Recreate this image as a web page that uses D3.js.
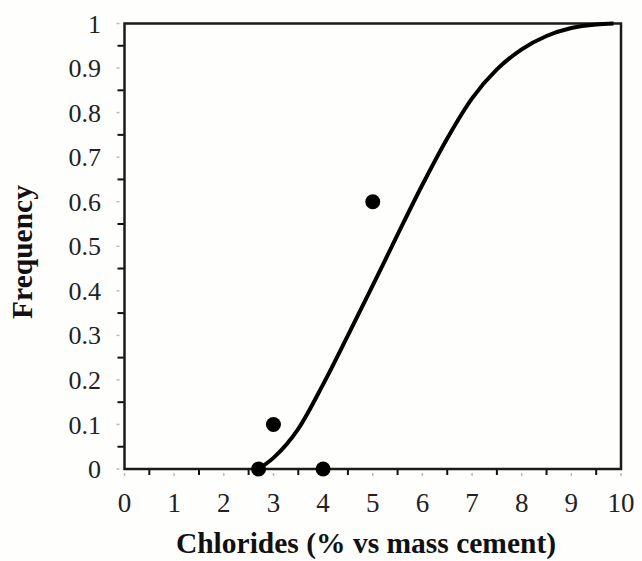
<!DOCTYPE html>
<html>
<head>
<meta charset="utf-8">
<script src="https://cdn.jsdelivr.net/npm/d3@7"></script>
<style>
  html, body { margin: 0; padding: 0; background: #fefefc; }
  svg { display: block; }
</style>
</head>
<body>
<svg id="chart" width="642" height="561"></svg>
<script>
// Fitted cumulative curve
const curveX = [2.7, 3.0, 3.5, 4.0, 4.5, 5.0, 5.5, 6.0, 6.5, 7.0, 7.5, 8.0, 8.5, 9.0, 9.5, 9.85];
const curveY = [0, 0.025, 0.09, 0.19, 0.30, 0.412, 0.526, 0.638, 0.742, 0.832, 0.897, 0.942, 0.972, 0.990, 0.998, 1.0];

// Observed frequencies
const obsX = [2.7, 3, 4, 5];
const obsY = [0, 0.1, 0, 0.6];

const xTicks = [0, 1, 2, 3, 4, 5, 6, 7, 8, 9, 10];
const yTicks = [0, 0.1, 0.2, 0.3, 0.4, 0.5, 0.6, 0.7, 0.8, 0.9, 1];

const svg = d3.select('#chart');
const serif = '"Liberation Serif", "Times New Roman", serif';

const x = d3.scaleLinear().domain([0, 10]).range([124.5, 621]);
const y = d3.scaleLinear().domain([0, 1]).range([469, 23.5]);

// Minor ticks (half steps) — dark, outside the frame
const xMinor = d3.range(0.5, 10, 1);
const yMinor = d3.range(0.05, 1, 0.1);

svg.append('g')
  .attr('transform', `translate(0,${y(0)})`)
  .selectAll('line').data(xMinor).join('line')
  .attr('x1', d => x(d)).attr('x2', d => x(d))
  .attr('y1', 0).attr('y2', 6)
  .attr('stroke', '#111').attr('stroke-width', 2);

svg.append('g')
  .attr('transform', `translate(${x(0)},0)`)
  .selectAll('line').data(yMinor).join('line')
  .attr('y1', d => y(d)).attr('y2', d => y(d))
  .attr('x1', 0).attr('x2', -7)
  .attr('stroke', '#111').attr('stroke-width', 2);

// Major ticks — faint
svg.append('g')
  .attr('transform', `translate(0,${y(0)})`)
  .selectAll('line').data(xTicks).join('line')
  .attr('x1', d => x(d)).attr('x2', d => x(d))
  .attr('y1', 4).attr('y2', 7)
  .attr('stroke', '#bbb').attr('stroke-width', 1.5);

svg.append('g')
  .attr('transform', `translate(${x(0)},0)`)
  .selectAll('line').data(yTicks).join('line')
  .attr('y1', d => y(d)).attr('y2', d => y(d))
  .attr('x1', -5).attr('x2', -8)
  .attr('stroke', '#bbb').attr('stroke-width', 1.5);

// Tick labels
svg.append('g').selectAll('text').data(xTicks).join('text')
  .attr('x', d => x(d)).attr('y', 512)
  .attr('text-anchor', 'middle')
  .attr('font-family', serif).attr('font-size', 27).attr('fill', '#222')
  .text(d => d);

svg.append('g').selectAll('text').data(yTicks).join('text')
  .attr('x', 101).attr('y', d => y(d)).attr('dy', '0.35em')
  .attr('text-anchor', 'end')
  .attr('font-family', serif).attr('font-size', 26).attr('fill', '#222')
  .text(d => d);

// Frame
svg.append('rect')
  .attr('x', x(0)).attr('y', y(1))
  .attr('width', x(10) - x(0)).attr('height', y(0) - y(1))
  .attr('fill', 'none').attr('stroke', '#1a1a1a').attr('stroke-width', 2.5);

// Curve
const line = d3.line()
  .x((d, i) => x(curveX[i]))
  .y(d => y(d))
  .curve(d3.curveMonotoneX);

svg.append('path')
  .attr('d', line(curveY))
  .attr('fill', 'none').attr('stroke', '#000').attr('stroke-width', 4);

// Points
svg.append('g').selectAll('circle').data(obsX).join('circle')
  .attr('cx', d => x(d)).attr('cy', (d, i) => y(obsY[i]))
  .attr('r', 7.5).attr('fill', '#000');

// Axis titles
svg.append('text')
  .attr('x', 366).attr('y', 553)
  .attr('text-anchor', 'middle')
  .attr('font-family', serif).attr('font-size', 29.5).attr('font-weight', 700).attr('fill', '#111')
  .text('Chlorides (% vs mass cement)');

svg.append('text')
  .attr('transform', 'translate(32,252) rotate(-90)')
  .attr('text-anchor', 'middle')
  .attr('font-family', serif).attr('font-size', 29.5).attr('font-weight', 700).attr('fill', '#111')
  .text('Frequency');
</script>
</body>
</html>
